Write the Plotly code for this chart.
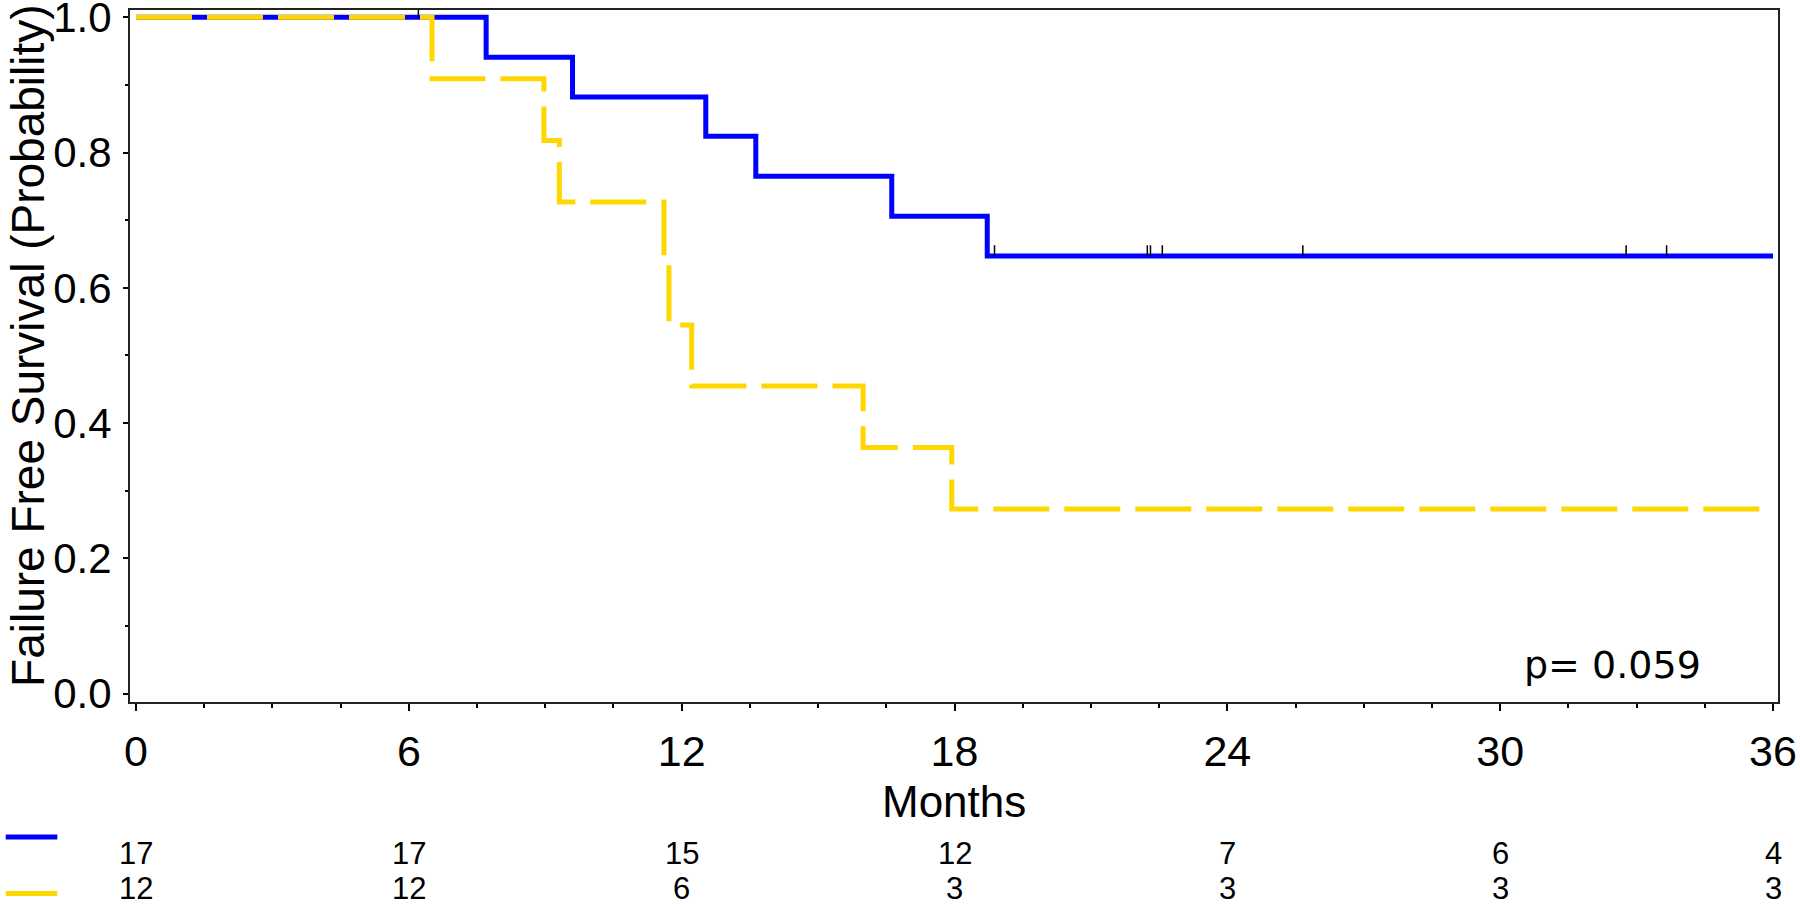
import plotly.graph_objects as go

# ---------------- data ----------------
blue_times = [0, 7.70, 9.60, 12.53, 13.63, 16.62, 18.72, 36]
blue_surv = [1.0, 0.941, 0.882, 0.824, 0.765, 0.706, 0.647, 0.647]
blue_censor = [18.88, 22.24, 22.31, 22.57, 25.66, 32.77, 33.66]

yellow_times = [0, 6.51, 8.97, 9.31, 11.61, 11.72, 12.22, 15.99, 17.94, 36]
yellow_surv = [1.0, 0.909, 0.818, 0.727, 0.636, 0.545, 0.455, 0.364, 0.273, 0.273]
yellow_censor = [6.21]

risk_months = [0, 6, 12, 18, 24, 30, 36]
risk_blue = [17, 17, 15, 12, 7, 6, 4]
risk_yellow = [12, 12, 6, 3, 3, 3, 3]

y_ticks = [0.0, 0.2, 0.4, 0.6, 0.8, 1.0]
p_text = "p= 0.059"

BLUE = "#0000FF"
YELLOW = "#FFD700"
FONT = "Liberation Sans, Arial, sans-serif"


def step_value(times, surv, t):
    v = surv[0]
    for ti, si in zip(times, surv):
        if ti <= t:
            v = si
    return v


def censor_segments(times, surv, cens, h=0.016):
    xs, ys = [], []
    for c in cens:
        s = step_value(times, surv, c)
        xs += [c, c, None]
        ys += [s, s + h, None]
    return xs, ys


fig = go.Figure()

fig.add_trace(go.Scatter(x=blue_times, y=blue_surv, mode="lines",
                         line=dict(color=BLUE, width=5, shape="hv"),
                         showlegend=False, cliponaxis=False))
fig.add_trace(go.Scatter(x=yellow_times, y=yellow_surv, mode="lines",
                         line=dict(color=YELLOW, width=5, shape="hv", dash="56px,15px"),
                         showlegend=False, cliponaxis=False))

bx, by = censor_segments(blue_times, blue_surv, blue_censor)
yx, yy = censor_segments(yellow_times, yellow_surv, yellow_censor)
fig.add_trace(go.Scatter(x=bx + yx, y=by + yy, mode="lines",
                         line=dict(color="black", width=1.5),
                         showlegend=False, cliponaxis=False))

annotations = []
# y-axis title
annotations.append(dict(text="Failure Free Survival (Probability)", textangle=-90,
                        xref="paper", yref="paper", x=-0.062, y=0.5157,
                        xanchor="center", yanchor="middle", showarrow=False,
                        font=dict(family=FONT, size=46, color="black")))
# x-axis title
annotations.append(dict(text="Months", xref="paper", yref="paper", x=0.5, y=-0.1436,
                        xanchor="center", yanchor="middle", showarrow=False,
                        font=dict(family=FONT, size=44, color="black")))
# p value
annotations.append(dict(text=p_text, xref="x", yref="y", x=32.48, y=0.042,
                        xanchor="center", yanchor="middle", showarrow=False,
                        font=dict(family="DejaVu Sans, sans-serif", size=38, color="black")))
# number at risk
for m, nb, ny in zip(risk_months, risk_blue, risk_yellow):
    annotations.append(dict(text=str(nb), xref="x", yref="paper", x=m, y=-0.2187,
                            xanchor="center", yanchor="middle", showarrow=False,
                            font=dict(family=FONT, size=31, color="black")))
    annotations.append(dict(text=str(ny), xref="x", yref="paper", x=m, y=-0.2692,
                            xanchor="center", yanchor="middle", showarrow=False,
                            font=dict(family=FONT, size=31, color="black")))

shapes = [
    dict(type="line", xref="paper", yref="paper", x0=-0.0754, x1=-0.0441,
         y0=-0.195, y1=-0.195, line=dict(color=BLUE, width=5)),
    dict(type="line", xref="paper", yref="paper", x0=-0.0754, x1=-0.0441,
         y0=-0.2766, y1=-0.2766, line=dict(color=YELLOW, width=5)),
]

fig.update_layout(
    width=1800, height=905,
    margin=dict(l=130, r=22, t=10, b=203, autoexpand=False),
    paper_bgcolor="white", plot_bgcolor="white",
    annotations=annotations, shapes=shapes,
    showlegend=False,
)

fig.update_xaxes(
    range=[-0.132, 36.11], tickmode="array", tickvals=risk_months,
    ticktext=[str(m) for m in risk_months],
    ticks="outside", ticklen=7, tickwidth=1.5, tickcolor="black",
    minor=dict(dtick=1.5, tick0=0, ticks="outside", ticklen=4, tickwidth=1.5, tickcolor="black", showgrid=False),
    showline=True, linecolor="#222", linewidth=2, mirror=True,
    showgrid=False, zeroline=False,
    tickfont=dict(family=FONT, size=43, color="black"),
    ticklabelstandoff=3, ticklabeloverflow="allow",
)
fig.update_yaxes(
    range=[-0.0124, 1.0108], tickmode="array", tickvals=y_ticks,
    ticktext=[f"{v:.1f}" for v in y_ticks],
    ticks="outside", ticklen=5, tickwidth=1.5, tickcolor="black",
    minor=dict(dtick=0.1, tick0=0, ticks="outside", ticklen=3, tickwidth=1.5, tickcolor="black", showgrid=False),
    showline=True, linecolor="#222", linewidth=2, mirror=True,
    showgrid=False, zeroline=False,
    tickfont=dict(family=FONT, size=42, color="black"),
    ticklabelstandoff=3, ticklabeloverflow="allow",
)

fig.write_html("out.html", config={"displayModeBar": False},
               post_script="document.body.style.margin='0';document.body.style.overflow='hidden';")
